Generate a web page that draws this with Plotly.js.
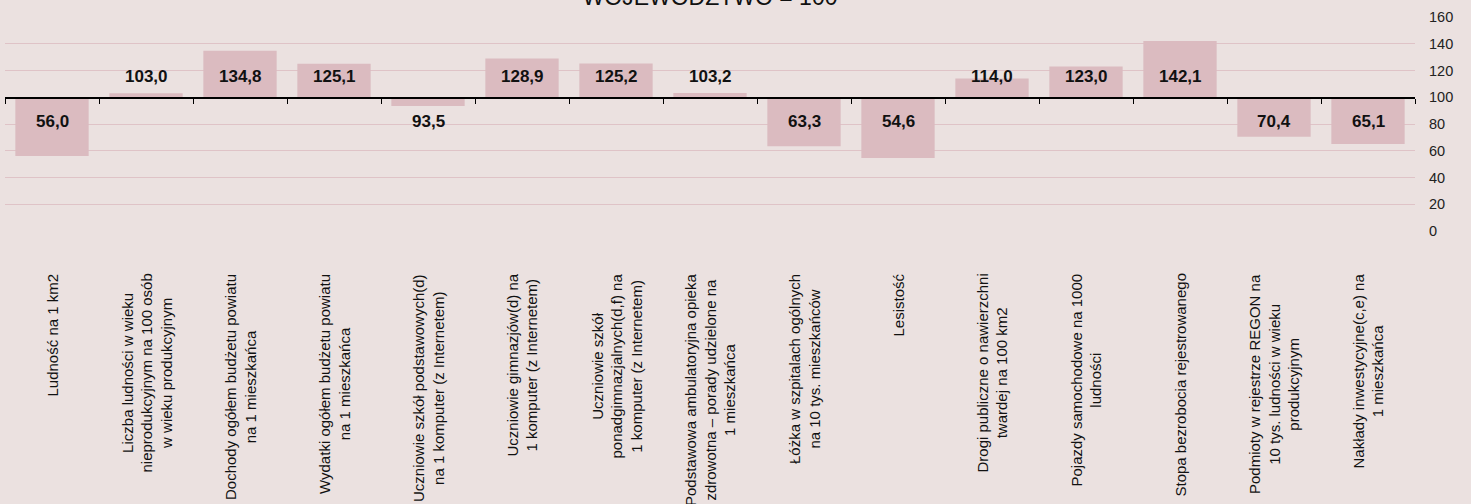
<!DOCTYPE html>
<html>
<head>
<meta charset="utf-8">
<script src="https://cdn.plot.ly/plotly-3.0.1.min.js"></script>
<style>html,body{margin:0;padding:0;background:#ebe1e0;}#chart{width:1471px;height:504px;}</style>
</head>
<body>
<div id="chart"></div>
<script>
const categories = [
  "Ludność na 1 km2",
  "Liczba ludności w wieku<br>nieprodukcyjnym na 100 osób<br>w wieku produkcyjnym",
  "Dochody ogółem budżetu powiatu<br>na 1 mieszkańca",
  "Wydatki ogółem budżetu powiatu<br>na 1 mieszkańca",
  "Uczniowie szkół podstawowych(d)<br>na 1 komputer (z Internetem)",
  "Uczniowie gimnazjów(d) na<br>1 komputer (z Internetem)",
  "Uczniowie szkół<br>ponadgimnazjalnych(d,f) na<br>1 komputer (z Internetem)",
  "Podstawowa ambulatoryjna opieka<br>zdrowotna – porady udzielone na<br>1 mieszkańca",
  "Łóżka w szpitalach ogólnych<br>na 10 tys. mieszkańców",
  "Lesistość",
  "Drogi publiczne o nawierzchni<br>twardej na 100 km2",
  "Pojazdy samochodowe na 1000<br>ludności",
  "Stopa bezrobocia rejestrowanego",
  "Podmioty w rejestrze REGON na<br>10 tys. ludności w wieku<br>produkcyjnym",
  "Nakłady inwestycyjne(c,e) na<br>1 mieszkańca"
];
const values = [56.0, 103.0, 134.8, 125.1, 93.5, 128.9, 125.2, 103.2, 63.3, 54.6, 114.0, 123.0, 142.1, 70.4, 65.1];
const baseValue = 100;
const titleText = "WOJEWÓDZTWO = 100";
const yTicks = [0, 20, 40, 60, 80, 100, 120, 140, 160];

const FONT = "Liberation Sans, Arial, sans-serif";
const fmt = v => v.toFixed(1).replace('.', ',');

const bars = {
  type: 'bar',
  x: categories,
  y: values.map(v => v - baseValue),
  base: baseValue,
  marker: {color: '#dbbbc0', line: {width: 0}},
  hoverinfo: 'skip',
  xaxis: 'x', yaxis: 'y'
};
const axisHelper = {
  type: 'scatter', mode: 'markers',
  x: categories, y: values,
  marker: {opacity: 0},
  hoverinfo: 'skip', showlegend: false,
  xaxis: 'x2', yaxis: 'y'
};

const annotations = [];
categories.forEach((c, i) => {
  annotations.push({
    x: c, xref: 'x', y: 0, yref: 'paper', yanchor: 'top', xanchor: 'center',
    yshift: -41, textangle: -90, align: 'center', showarrow: false,
    text: c, font: {family: FONT, size: 15, color: '#111'}
  });
  const up = values[i] >= baseValue;
  annotations.push({
    x: c, xref: 'x', y: baseValue, yref: 'y', yanchor: 'middle', xanchor: 'center',
    yshift: up ? 21 : -24, showarrow: false,
    text: '<b>' + fmt(values[i]) + '</b>', font: {family: FONT, size: 17, color: '#111'}
  });
});

const layout = {
  width: 1471, height: 504,
  margin: {l: 5, r: 56, t: 17, b: 273, pad: 0},
  paper_bgcolor: '#ebe1e0', plot_bgcolor: '#ebe1e0',
  showlegend: false,
  bargap: 0.22,
  title: {
    text: titleText, x: 0.5, xref: 'paper', xanchor: 'center',
    y: 1, yref: 'paper', yanchor: 'bottom', pad: {b: 12},
    font: {family: FONT, size: 23, color: '#111'}
  },
  xaxis: {
    type: 'category', range: [-0.5, categories.length - 0.5],
    showticklabels: false, showgrid: false, zeroline: false, showline: false, ticks: ''
  },
  xaxis2: {
    type: 'category', overlaying: 'x', anchor: 'free', position: baseValue / 160,
    side: 'bottom', range: [-0.5, categories.length - 0.5],
    showticklabels: false, showgrid: false, zeroline: false,
    showline: true, linecolor: '#000', linewidth: 1.3,
    ticks: 'outside', tickson: 'boundaries', ticklen: 5, tickcolor: '#000', tickwidth: 1
  },
  yaxis: {
    range: [0, 160], side: 'right', tickmode: 'array', tickvals: yTicks,
    ticktext: yTicks.map(String),
    showgrid: true, gridcolor: '#dfc3c7', gridwidth: 1,
    zeroline: false, showline: false, ticks: '', ticklabelstandoff: 13,
    tickfont: {family: FONT, size: 14.5, color: '#222'}
  },
  annotations: annotations
};

Plotly.newPlot('chart', [bars, axisHelper], layout, {displayModeBar: false, staticPlot: true});
</script>
</body>
</html>
